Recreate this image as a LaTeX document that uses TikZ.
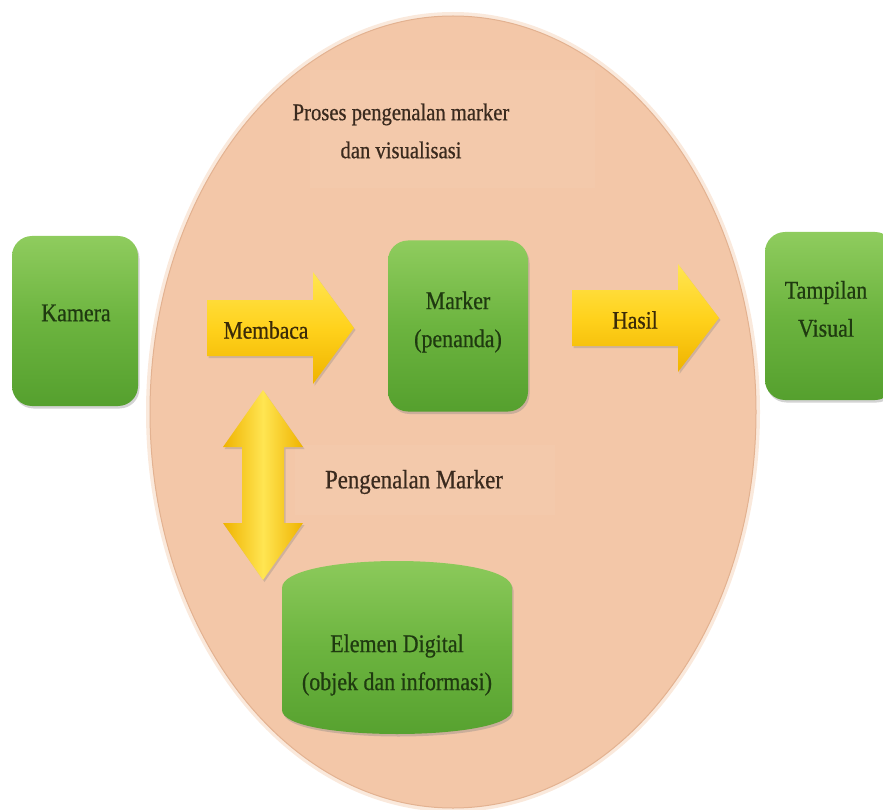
\documentclass[tikz,border=0pt]{standalone}
\usepackage{fontspec}
\setmainfont{Liberation Serif}[FakeStretch=0.86, FakeBold=0.6]
\usetikzlibrary{shadows}
\definecolor{peach}{HTML}{F3C7A8}
\definecolor{peachlt}{HTML}{F5CDB1}
\definecolor{peachedge}{HTML}{E3B291}
\definecolor{gtop}{HTML}{8FCC5E}
\definecolor{gmid}{HTML}{6CB43F}
\definecolor{gbot}{HTML}{55A02E}
\definecolor{gtext}{HTML}{1F3A10}
\definecolor{btext}{HTML}{3A2A1E}
\definecolor{atext}{HTML}{3A2A08}
\definecolor{ylt}{HTML}{FFE552}
\definecolor{ymid}{HTML}{FFD21C}
\definecolor{ydk}{HTML}{EFB300}
\newcommand\rblk[6]{(#1,#4-#5) -- (#2,#4-#5) -- (#2,#4-#6) -- (#3,#4) -- (#2,#4+#6) -- (#2,#4+#5) -- (#1,#4+#5) -- cycle}
\tikzset{
  gbox/.style={draw=none, rounded corners=20pt, top color=gtop, bottom color=gbot, middle color=gmid,
    drop shadow={shadow xshift=1.5pt, shadow yshift=-2.5pt, opacity=0.35}},
  gtxt/.style={align=center, text=gtext, font=\fontsize{25.5}{38}\selectfont},
  etxt/.style={align=center, text=btext, font=\fontsize{24}{38}\selectfont},
  atxt/.style={text=atext, font=\fontsize{25}{28}\selectfont},
  harrow/.style={draw=none, top color=ylt, bottom color=ydk, middle color=ymid,
    drop shadow={shadow xshift=1.5pt, shadow yshift=-2pt, opacity=0.3}},
  varrow/.style={draw=none, left color=ydk, right color=ydk, middle color=ylt,
    drop shadow={shadow xshift=1.5pt, shadow yshift=-2pt, opacity=0.3}},
}
\begin{document}
\begin{tikzpicture}[x=1pt, y=-1pt]
\useasboundingbox (0,0) rectangle (883,810);
\clip (0,0) rectangle (883,810);
% big ellipse
\fill[white!60!peach] (453,412) ellipse [x radius=307, y radius=400];
\draw[peachedge, line width=1pt, fill=peach] (453,412) ellipse [x radius=303, y radius=396];
% faint text panels
\fill[peachlt, opacity=0.35] (310,70) rectangle (595,188);
\fill[peachlt, opacity=0.35] (295,445) rectangle (555,515);
\node[etxt] (judul) at (401,131) {Proses pengenalan marker\\dan visualisasi};
\node[etxt, font=\fontsize{26.5}{30}\selectfont] (pengenalan) at (414,482) {Pengenalan Marker};
% green boxes
\node[gbox, minimum width=126pt, minimum height=170pt] (kamera) at (75,321) {};
\node[gtxt] (kameraT) at (76,313) {Kamera};
\node[gbox, minimum width=140pt, minimum height=171pt] (marker) at (458,326) {};
\node[gtxt] (markerT) at (458,322) {Marker\\(penanda)};
\node[gbox, minimum width=130pt, minimum height=168pt] (tampilan) at (830,316) {};
\node[gtxt] (tampilanT) at (826,309) {Tampilan\\Visual};
% elemen digital (cylinder-like)
\path[draw=none, top color=gtop, bottom color=gbot, middle color=gmid,
  drop shadow={shadow xshift=1.5pt, shadow yshift=-2.5pt, opacity=0.35}]
  (282,588) .. controls (282,552) and (512,552) .. (512,588)
  -- (512,710) .. controls (512,742) and (282,742) .. (282,710) -- cycle;
\node[gtxt] (elemen) at (397,665) {Elemen Digital\\(objek dan informasi)};
% block arrows
\path[harrow] \rblk{207}{313}{354}{328}{28}{56};
\node[atxt] (membaca) at (266,330) {Membaca};
\path[harrow] \rblk{572}{678}{719}{318}{28}{54};
\node[atxt] (hasil) at (635,320) {Hasil};
\path[varrow] (263,390) -- (303,447) -- (284,447) -- (284,523) -- (303,523) -- (263,580)
  -- (223,523) -- (242,523) -- (242,447) -- (223,447) -- cycle;
\end{tikzpicture}
\end{document}
